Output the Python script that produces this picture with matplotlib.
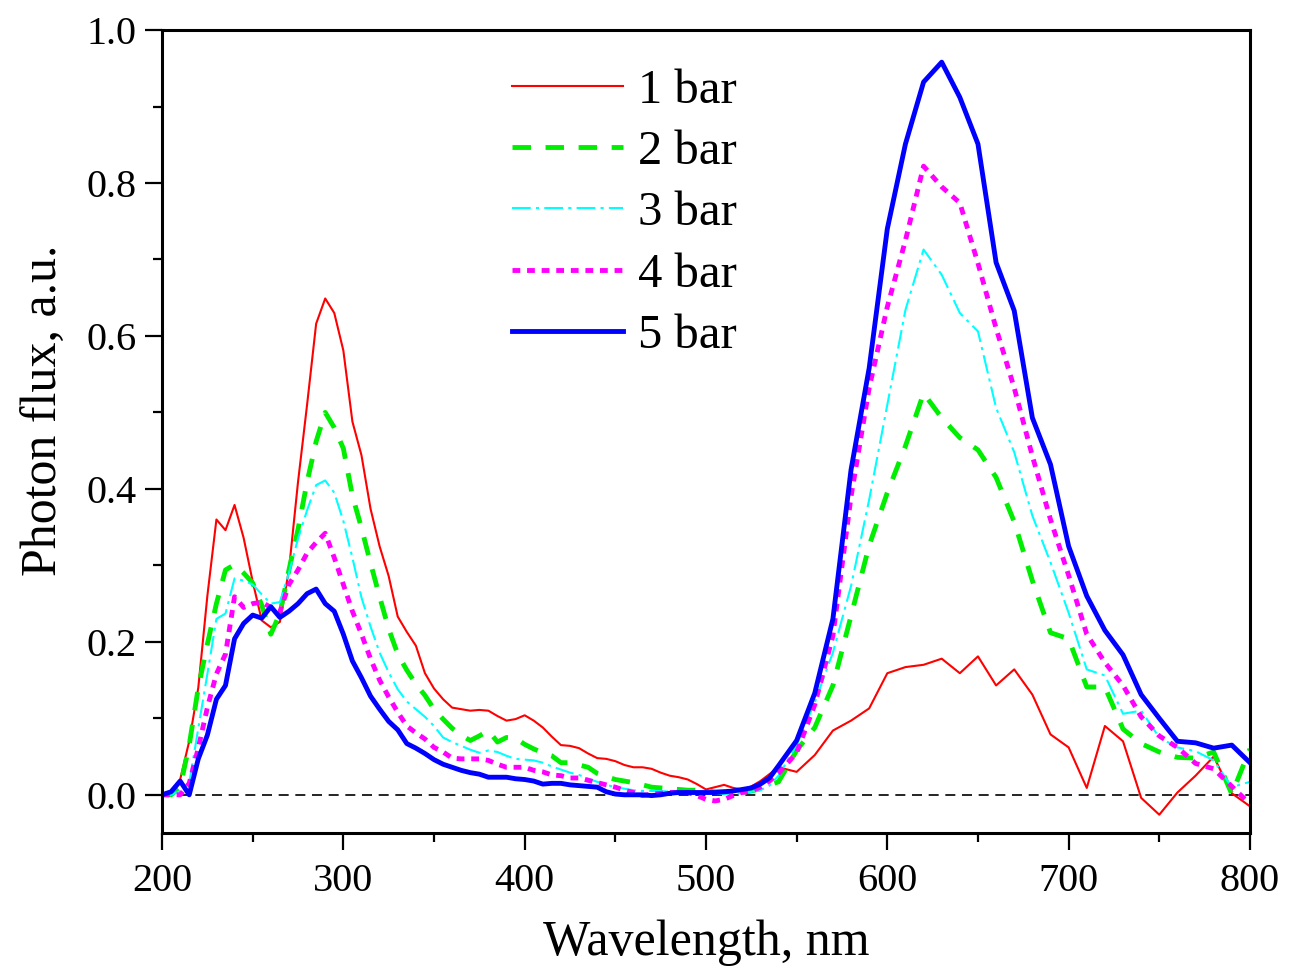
import matplotlib
matplotlib.use("Agg")
import matplotlib.pyplot as plt
from matplotlib.ticker import MultipleLocator

# wavelength grid: 5 nm steps up to 540, then 10 nm steps
wl = list(range(200, 545, 5)) + list(range(550, 810, 10))

bar1 = [0.0, 0.003, 0.02, 0.07, 0.14, 0.26, 0.36, 0.346, 0.379, 0.336,
        0.279, 0.228, 0.219, 0.226, 0.294, 0.409, 0.51, 0.616, 0.649, 0.63,
        0.581, 0.488, 0.444, 0.374, 0.325, 0.286, 0.233, 0.213, 0.195, 0.159,
        0.139, 0.125, 0.114, 0.112, 0.110, 0.111, 0.110, 0.103, 0.097, 0.099,
        0.104, 0.097, 0.088, 0.076, 0.065, 0.064, 0.061, 0.054, 0.048, 0.047,
        0.044, 0.039, 0.036, 0.036, 0.034, 0.029, 0.025, 0.023, 0.020, 0.014,
        0.007, 0.010, 0.013, 0.009, 0.007, 0.011, 0.018, 0.027, 0.036,
        0.030, 0.052, 0.084, 0.097, 0.113, 0.159, 0.167, 0.170, 0.178, 0.159,
        0.181, 0.143, 0.164, 0.131, 0.079, 0.062, 0.009, 0.090, 0.070, -0.004,
        -0.026, 0.003, 0.025, 0.050, 0.002, -0.015]

bar2 = [0.0, 0.0, 0.01, 0.065, 0.14, 0.197, 0.25, 0.294, 0.301, 0.29,
        0.277, 0.248, 0.21, 0.237, 0.294, 0.347, 0.409, 0.462, 0.50, 0.48,
        0.453, 0.391, 0.349, 0.303, 0.259, 0.217, 0.184, 0.163, 0.145, 0.13,
        0.112, 0.099, 0.087, 0.078, 0.071, 0.077, 0.084, 0.069, 0.075, 0.074,
        0.066, 0.060, 0.055, 0.051, 0.042, 0.042, 0.039, 0.036, 0.028, 0.024,
        0.020, 0.018, 0.016, 0.013, 0.010, 0.009, 0.008, 0.007, 0.006, 0.006,
        0.005, 0.004, 0.004, 0.003, 0.003, 0.005, 0.008, 0.013, 0.017,
        0.058, 0.088, 0.143, 0.234, 0.326, 0.395, 0.456, 0.525, 0.493, 0.467,
        0.451, 0.415, 0.357, 0.28, 0.212, 0.204, 0.141, 0.141, 0.086, 0.067,
        0.056, 0.049, 0.048, 0.056, 0.001, 0.060]

bar3 = [0.0, 0.0, 0.005, 0.015, 0.087, 0.158, 0.230, 0.237, 0.283, 0.28,
        0.275, 0.262, 0.25, 0.252, 0.29, 0.335, 0.372, 0.405, 0.411, 0.395,
        0.358, 0.31, 0.258, 0.22, 0.186, 0.16, 0.138, 0.122, 0.112, 0.102,
        0.090, 0.075, 0.069, 0.064, 0.059, 0.055, 0.058, 0.056, 0.051, 0.047,
        0.046, 0.045, 0.042, 0.037, 0.033, 0.029, 0.026, 0.021, 0.017, 0.013,
        0.010, 0.008, 0.006, 0.005, 0.005, 0.005, 0.004, 0.004, 0.003, 0.003,
        0.003, 0.002, 0.001, 0.002, 0.002, 0.004, 0.006, 0.012, 0.025,
        0.065, 0.121, 0.186, 0.273, 0.386, 0.51, 0.634, 0.713, 0.68, 0.63,
        0.606, 0.506, 0.448, 0.365, 0.304, 0.238, 0.164, 0.156, 0.106, 0.110,
        0.075, 0.062, 0.057, 0.045, 0.010, 0.017]

bar4 = [0.0, 0.0, 0.0, 0.015, 0.061, 0.114, 0.158, 0.184, 0.259, 0.245,
        0.25, 0.252, 0.245, 0.239, 0.275, 0.294, 0.316, 0.33, 0.342, 0.31,
        0.275, 0.24, 0.21, 0.178, 0.15, 0.128, 0.108, 0.09, 0.081, 0.073,
        0.062, 0.056, 0.048, 0.047, 0.047, 0.047, 0.045, 0.040, 0.036, 0.036,
        0.036, 0.032, 0.030, 0.026, 0.025, 0.022, 0.022, 0.019, 0.016, 0.013,
        0.010, 0.006, 0.003, -0.001, 0.001, 0.002, 0.003, 0.003, 0.003, -0.001,
        -0.006, -0.008, -0.006, -0.001, 0.003, 0.005, 0.010, 0.018, 0.028,
        0.055, 0.118, 0.208, 0.39, 0.532, 0.638, 0.725, 0.822, 0.795, 0.774,
        0.695, 0.61, 0.532, 0.443, 0.36, 0.287, 0.21, 0.173, 0.143, 0.102,
        0.077, 0.062, 0.041, 0.034, 0.011, -0.012]

bar5 = [0.0, 0.004, 0.018, 0.0, 0.047, 0.078, 0.125, 0.143, 0.204, 0.224,
        0.235, 0.231, 0.246, 0.232, 0.24, 0.25, 0.263, 0.269, 0.25, 0.24,
        0.21, 0.175, 0.153, 0.129, 0.112, 0.096, 0.085, 0.067, 0.061, 0.054,
        0.046, 0.04, 0.036, 0.032, 0.029, 0.027, 0.023, 0.023, 0.023, 0.021,
        0.020, 0.018, 0.014, 0.015, 0.015, 0.013, 0.012, 0.011, 0.010, 0.004,
        0.001, 0.0, 0.0, 0.0, -0.001, 0.0, 0.002, 0.003, 0.003, 0.003,
        0.003, 0.003, 0.004, 0.005, 0.007, 0.009, 0.014, 0.022, 0.038,
        0.071, 0.133, 0.23, 0.425, 0.558, 0.740, 0.851, 0.932, 0.958, 0.912,
        0.851, 0.696, 0.633, 0.493, 0.432, 0.325, 0.26, 0.215, 0.183, 0.131,
        0.10, 0.07, 0.068, 0.061, 0.065, 0.042]

labels = ["1 bar", "2 bar", "3 bar", "4 bar", "5 bar"]

plt.rcParams["font.family"] = ["Liberation Serif", "DejaVu Serif"]

fig = plt.figure(figsize=(12.91, 9.69), dpi=100)
ax = fig.add_axes([0.1255, 0.1403, 0.8427, 0.8287])

ax.axhline(0, color="black", lw=1.2, dashes=(6, 4), zorder=1)

ax.plot(wl, bar1, color="#ff0000", lw=1.5, label=labels[0])
ax.plot(wl, bar2, color="#00ee00", lw=3.5, dashes=(3.8, 3), label=labels[1])
ax.plot(wl, bar3, color="#00ffff", lw=1.5, dashes=(9, 2.5, 1.5, 2.5), label=labels[2])
ax.plot(wl, bar4, color="#ff00ff", lw=3.5, dashes=(1.6, 1.4), label=labels[3])
ax.plot(wl, bar5, color="#0000ff", lw=3.5, label=labels[4])

ax.set_xlim(200, 800)
ax.set_ylim(-0.05, 1.0)
ax.xaxis.set_major_locator(MultipleLocator(100))
ax.xaxis.set_minor_locator(MultipleLocator(50))
ax.yaxis.set_major_locator(MultipleLocator(0.2))
ax.yaxis.set_minor_locator(MultipleLocator(0.1))
ax.yaxis.set_major_formatter(plt.FuncFormatter(lambda v, p: f"{v:.1f}"))

for s in ax.spines.values():
    s.set_linewidth(2.2)

ax.tick_params(which="both", direction="out", top=False, right=False, labelsize=29)
ax.tick_params(which="major", length=12.5, width=1.6, pad=6)
ax.tick_params(axis="x", which="major", pad=9)
ax.tick_params(which="minor", length=6.5, width=1.6)

ax.set_xlabel("Wavelength, nm", fontsize=36, labelpad=14)
ax.set_ylabel("Photon flux, a.u.", fontsize=36)
ax.yaxis.set_label_coords(-0.0865, 0.527)

ax.legend(loc="upper left", bbox_to_anchor=(0.322, 0.951), frameon=False,
          fontsize=35, handlelength=2.28, handletextpad=0.3, labelspacing=0.35,
          borderpad=0, borderaxespad=0)

fig.savefig("out.png", dpi=100)
